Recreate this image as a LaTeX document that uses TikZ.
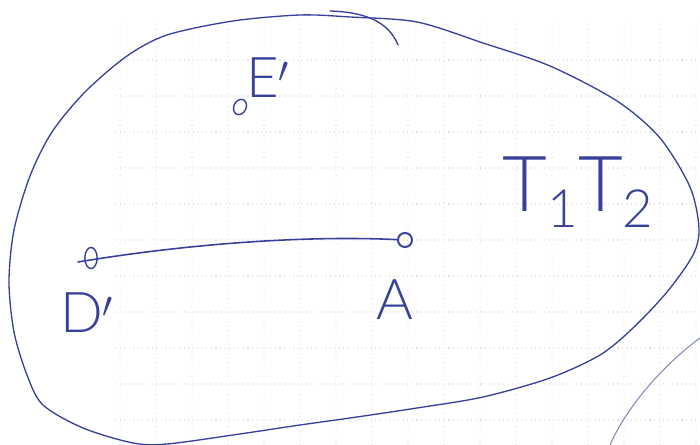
\documentclass[tikz,border=0pt]{standalone}
\usetikzlibrary{shapes.geometric}
\usepackage{fontspec}
\newfontfamily\hand{Lato Light}
\definecolor{pen}{RGB}{55,65,155}
\definecolor{penlight}{RGB}{130,140,190}
\begin{document}
\begin{tikzpicture}[x=0.02cm,y=-0.02cm,
  penline/.style={draw=pen,line width=0.75pt,line cap=round},
  dotpt/.style={draw=pen,line width=0.8pt,ellipse,inner sep=0pt},
  lbl/.style={text=pen,font=\hand\fontsize{32}{32}\selectfont,inner sep=0pt},
  gridline/.style={draw=gray!22,dotted,line width=0.6pt}]
\useasboundingbox (0,0) rectangle (700,445);
\fill[white] (0,0) rectangle (700,445);
% faint paper grid
\foreach \y in {60,96,132,168,204,240,276,312,348,384,420}
  \draw[gridline] (115,\y) -- (700,\y);
\foreach \x in {120,156,192,228,264,300,336,372,408,444,480,516,552,588,624,660,696}
  \draw[gridline,gray!12] (\x,24) -- (\x,445);
% blob outline
\draw[penline] plot[smooth cycle,tension=0.5] coordinates {
  (300,15) (350,17) (417,22) (483,43) (550,66) (617,101) (660,138)
  (690,187) (699,228) (693,255) (667,292) (633,328) (600,355) (550,378)
  (483,397) (417,408) (350,418) (300,425) (233,435) (167,444) (133,443)
  (83,428) (43,405) (27,375) (14,332) (9,282) (14,230) (30,176) (52,132)
  (85,92) (127,56) (167,35) (233,21)};
% stroke tail at top
\draw[penline] (330,11) .. controls (362,12) and (388,20) .. (398,45);
% second outline, bottom right
\draw[draw=penlight,line width=0.6pt] (700,338) .. controls (670,360) and (630,400) .. (610,445);
% points
\node[dotpt,minimum width=7pt,minimum height=12pt] (D) at (91,258) {};
\node[dotpt,minimum width=8pt,minimum height=8pt,line width=1.1pt] (A) at (405,240) {};
\node[dotpt,minimum width=7pt,minimum height=9pt,rotate=-25] (E) at (240,107) {};
\coordinate (Ds) at (78,262);
\draw[penline,line width=0.9pt] (Ds) .. controls (180,245) and (300,235) .. (A);
% labels
\node[lbl] (Dl) at (87,313) {D$'$};
\node[lbl] (Al) at (395,300) {A};
\node[lbl] (El) at (268,78) {E$'$};
\node[lbl,font=\hand\fontsize{44}{44}\selectfont] (T) at (578,192)
  {T\raisebox{-0.4ex}{\fontsize{30}{30}\selectfont 1}T\raisebox{-0.4ex}{\fontsize{30}{30}\selectfont 2}};
\end{tikzpicture}
\end{document}
